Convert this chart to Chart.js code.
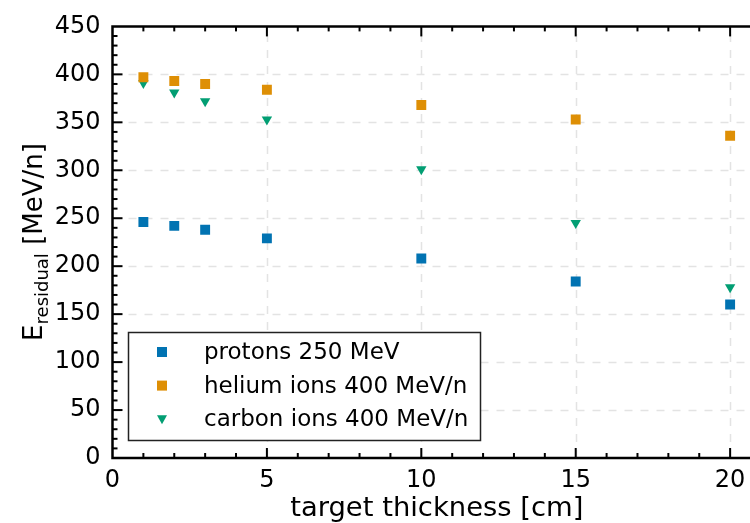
<!DOCTYPE html>
<html>
<head>
<meta charset="utf-8">
<script src="https://cdn.jsdelivr.net/npm/chart.js@4/dist/chart.umd.min.js"></script>
<style>
  html, body { margin: 0; padding: 0; background: #fff; overflow: hidden; width: 750px; height: 523px; }
  canvas { display: block; }
</style>
</head>
<body>
<canvas id="c" width="768" height="523"></canvas>
<script>
// ---- data ----
const thickness = [1, 2, 3, 5, 10, 15, 20];
const protons = [246, 242, 238, 229, 208, 184, 160];
const helium = [397, 393, 390, 384, 368, 353, 336];
const carbon = [391, 381, 372, 353, 301, 245, 178];
const seriesNames = ['protons 250 MeV', 'helium ions 400 MeV/n', 'carbon ions 400 MeV/n'];
const xTicks = [0, 5, 10, 15, 20];
const yTicks = [0, 50, 100, 150, 200, 250, 300, 350, 400, 450];
const xTitle = 'target thickness [cm]';
const yTitleMain = 'E', yTitleSub = 'residual', yTitleRest = ' [MeV/n]';

const FONT = 'DejaVu Sans';
const colors = ['#0173b2', '#de8f05', '#029e73'];
const pts = (ys) => thickness.map((x, i) => ({ x, y: ys[i] }));

const axesPlugin = {
  id: 'axesPlugin',
  beforeDatasetsDraw(chart) {
    const { ctx, chartArea: a, scales: { x, y } } = chart;
    ctx.save();
    ctx.strokeStyle = '#e3e3e3';
    ctx.lineWidth = 1.5;
    ctx.setLineDash([8, 8]);
    xTicks.forEach(v => {
      if (v <= 0) return;
      const px = Math.round(x.getPixelForValue(v)) + 0.5;
      ctx.beginPath(); ctx.moveTo(px, a.bottom); ctx.lineTo(px, a.top); ctx.stroke();
    });
    yTicks.forEach(v => {
      if (v <= 0 || v >= 450) return;
      const py = Math.round(y.getPixelForValue(v)) + 0.5;
      ctx.beginPath(); ctx.moveTo(a.left, py); ctx.lineTo(a.right, py); ctx.stroke();
    });
    ctx.restore();
  },
  afterDraw(chart) {
    const { ctx, chartArea: a, scales: { x, y } } = chart;
    ctx.save();
    ctx.strokeStyle = '#000';
    ctx.setLineDash([]);
    ctx.lineWidth = 2;
    for (let v = 1; v < x.max; v += 1) {
      const px = x.getPixelForValue(v);
      const len = (v % 5 === 0) ? 10 : 5;
      ctx.beginPath(); ctx.moveTo(px, a.bottom); ctx.lineTo(px, a.bottom - len); ctx.stroke();
      ctx.beginPath(); ctx.moveTo(px, a.top); ctx.lineTo(px, a.top + len); ctx.stroke();
    }
    for (let v = 10; v <= 440; v += 10) {
      const py = y.getPixelForValue(v);
      const len = (v % 50 === 0) ? 10 : 5;
      ctx.beginPath(); ctx.moveTo(a.left, py); ctx.lineTo(a.left + len, py); ctx.stroke();
    }
    ctx.lineWidth = 2.5;
    ctx.beginPath();
    ctx.moveTo(a.right, a.top); ctx.lineTo(a.left, a.top);
    ctx.lineTo(a.left, a.bottom); ctx.lineTo(a.right, a.bottom);
    ctx.stroke();

    // legend
    const lx = 128.5, ly = 332.5, lw = 352, lh = 108;
    ctx.fillStyle = '#fff';
    ctx.fillRect(lx, ly, lw, lh);
    ctx.lineWidth = 1.5;
    ctx.strokeStyle = '#222';
    ctx.strokeRect(lx, ly, lw, lh);
    ctx.font = '23px "' + FONT + '"';
    ctx.textBaseline = 'middle';
    ctx.textAlign = 'left';
    chart.data.datasets.forEach((ds, i) => {
      const cy = 352 + i * 33.6;
      const cx = 162;
      ctx.fillStyle = ds.backgroundColor;
      if (ds.pointStyle === 'rect') {
        ctx.fillRect(cx - 5, cy - 5, 10, 10);
      } else {
        ctx.beginPath();
        ctx.moveTo(cx - 5, cy - 4); ctx.lineTo(cx + 5, cy - 4); ctx.lineTo(cx, cy + 5);
        ctx.closePath(); ctx.fill();
      }
      ctx.fillStyle = '#000';
      ctx.fillText(ds.label, 204, cy + 1);
    });

    // y title with subscript
    ctx.save();
    ctx.translate(41.5, 242);
    ctx.rotate(-Math.PI / 2);
    ctx.fillStyle = '#000';
    ctx.textBaseline = 'alphabetic';
    const fMain = '26px "' + FONT + '"', fSub = '18px "' + FONT + '"';
    ctx.font = fMain; const w1 = ctx.measureText(yTitleMain).width;
    const w3 = ctx.measureText(yTitleRest).width;
    ctx.font = fSub; const w2 = ctx.measureText(yTitleSub).width;
    let sx = -(w1 + w2 + w3) / 2;
    ctx.font = fMain; ctx.fillText(yTitleMain, sx, 0); sx += w1;
    ctx.font = fSub; ctx.fillText(yTitleSub, sx, 6); sx += w2;
    ctx.font = fMain; ctx.fillText(yTitleRest, sx, 0);
    ctx.restore();
    ctx.restore();
  }
};

new Chart(document.getElementById('c'), {
  type: 'scatter',
  data: {
    datasets: [
      { label: seriesNames[0], data: pts(protons), backgroundColor: colors[0], borderColor: colors[0], pointStyle: 'rect', pointRadius: 7, borderWidth: 0 },
      { label: seriesNames[1], data: pts(helium), backgroundColor: colors[1], borderColor: colors[1], pointStyle: 'rect', pointRadius: 7, borderWidth: 0 },
      { label: seriesNames[2], data: pts(carbon), backgroundColor: colors[2], borderColor: colors[2], pointStyle: 'triangle', rotation: 180, pointRadius: 6, borderWidth: 0 }
    ]
  },
  options: {
    responsive: false,
    animation: false,
    layout: { padding: { top: 24.5, right: -8, left: 0, bottom: 0 } },
    plugins: { legend: { display: false }, tooltip: { enabled: false } },
    scales: {
      x: {
        type: 'linear', min: 0, max: 21,
        grid: { display: false, drawTicks: false },
        border: { display: false },
        afterFit: (s) => { s.height = 65; },
        afterBuildTicks: (s) => { s.ticks = xTicks.map(v => ({ value: v })); },
        ticks: { font: { family: FONT, size: 24 }, color: '#000', padding: 8, maxRotation: 0, includeBounds: false },
        title: { display: true, text: xTitle, font: { family: FONT, size: 27.4 }, color: '#000', padding: { top: 0, bottom: -2 } }
      },
      y: {
        type: 'linear', min: 0, max: 450,
        grid: { display: false, drawTicks: false },
        border: { display: false },
        afterFit: (s) => { s.width = 112.5; },
        afterBuildTicks: (s) => { s.ticks = yTicks.map(v => ({ value: v })); },
        ticks: { font: { family: FONT, size: 24 }, color: '#000', padding: 12 }
      }
    }
  },
  plugins: [axesPlugin]
});
</script>
</body>
</html>
